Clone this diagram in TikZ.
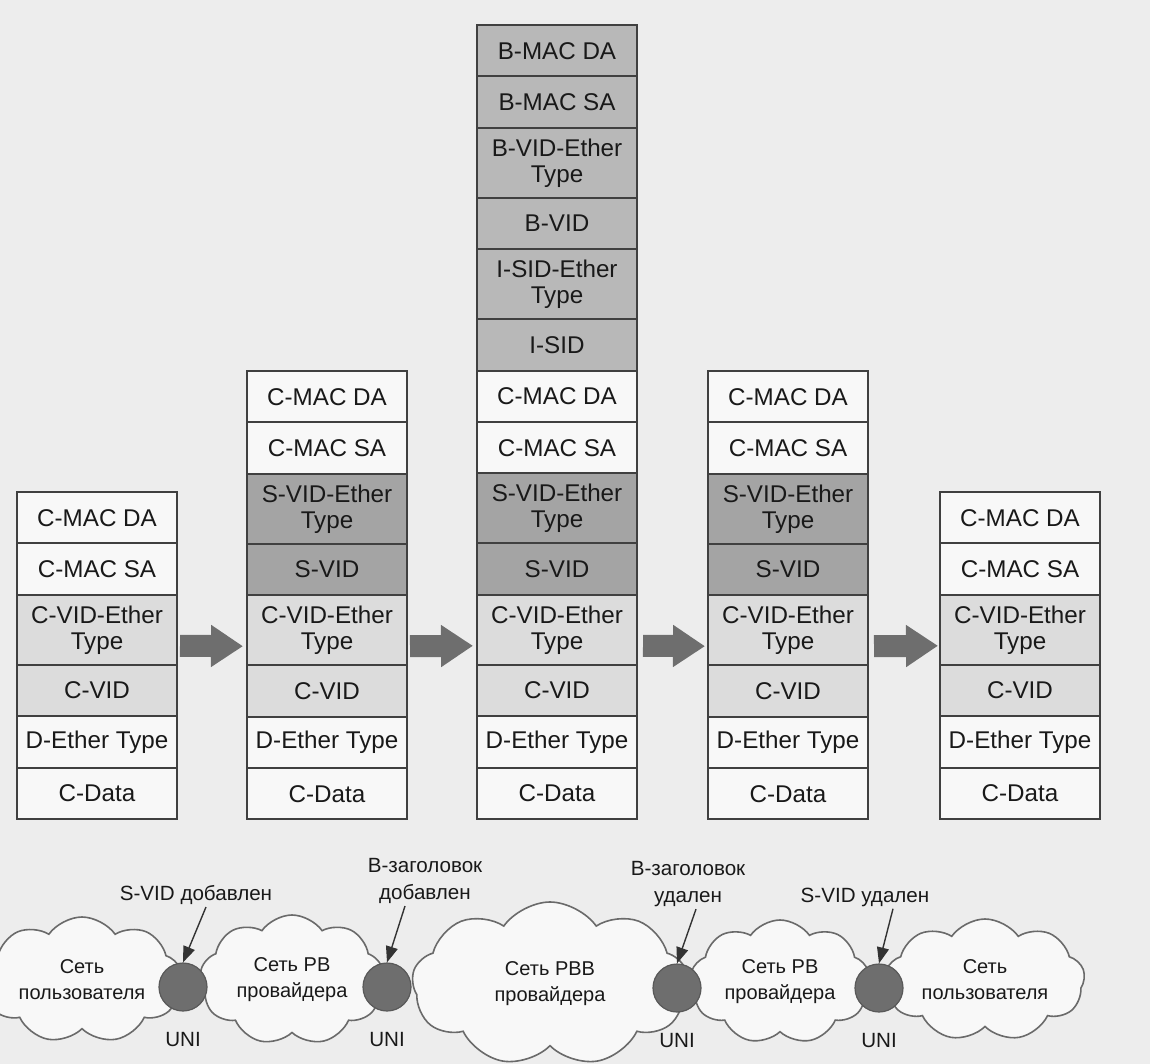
\documentclass[tikz,border=0pt]{standalone}
\usepackage{fontspec}
\setmainfont{Liberation Sans}
\usetikzlibrary{arrows.meta,positioning,shapes.symbols}

\definecolor{pagebg}{HTML}{EDEDED}
\definecolor{cwhite}{HTML}{F8F8F8}
\definecolor{clight}{HTML}{DCDCDC}
\definecolor{cdark}{HTML}{A4A4A4}
\definecolor{bgrey}{HTML}{B8B8B8}
\definecolor{edge}{HTML}{404040}
\definecolor{arrowgrey}{HTML}{6E6E6E}
\definecolor{cloudline}{HTML}{6A6A6A}

\newcommand{\clientrows}{C-MAC DA/cwhite/25.7pt, C-MAC SA/cwhite/25.7pt, C-VID-Ether\\Type/clight/35pt, C-VID/clight/25.7pt, D-Ether Type/cwhite/25.7pt, C-Data/cwhite/25.7pt}
\newcommand{\pbrows}{C-MAC DA/cwhite/25.7pt, C-MAC SA/cwhite/25.7pt, S-VID-Ether\\Type/cdark/35pt, S-VID/cdark/25.7pt, C-VID-Ether\\Type/clight/35pt, C-VID/clight/25.7pt, D-Ether Type/cwhite/25.7pt, C-Data/cwhite/25.7pt}

\tikzset{
	field/.style={draw=edge, line width=1pt, minimum width=80pt, inner sep=0pt, outer sep=0pt,
		align=center, text=black!90, font=\fontsize{12.1}{13}\selectfont},
	stacktop/.style={inner sep=0pt, outer sep=0pt, minimum size=0pt},
	flow/.style={draw=arrowgrey, line width=11pt, -{Triangle[length=16pt, width=20pt]}},
	net/.style={cloud, cloud puffs=9, cloud puff arc=110, cloud ignores aspect, draw=cloudline,
		line width=0.8pt, fill=cwhite, align=center, text=black!90, font=\fontsize{10}{13}\selectfont},
	uni/.style={circle, fill=arrowgrey, draw=black!65, line width=0.6pt, minimum size=24pt, inner sep=0pt},
	lbl/.style={align=center, inner sep=1pt, text=black!90, font=\fontsize{10.3}{13.5}\selectfont},
	ptr/.style={draw=black!80, line width=0.7pt, -{Triangle[length=8pt, width=6pt]}}
}

\begin{document}
\begin{tikzpicture}[x=0.5pt, y=-0.5pt]
	\fill[pagebg] (0,0) rectangle (1150,1064);
	\useasboundingbox (0,0) rectangle (1150,1064);
	% frame stacks
	\node[stacktop] (s1-0) at (97,492) {};
	\foreach \lab/\col/\rh [count=\i] in \clientrows {
		\pgfmathtruncatemacro\j{\i-1}
		\node[field, fill=\col, minimum height=\rh, below=0pt of s1-\j] (s1-\i) {\lab};
	}
	\node[stacktop] (s2-0) at (327,371) {};
	\foreach \lab/\col/\rh [count=\i] in \pbrows {
		\pgfmathtruncatemacro\j{\i-1}
		\node[field, fill=\col, minimum height=\rh, below=0pt of s2-\j] (s2-\i) {\lab};
	}
	\node[stacktop] (s3-0) at (557,25) {};
	\foreach \lab/\col/\rh [count=\i] in {B-MAC DA/bgrey/25.7pt, B-MAC SA/bgrey/25.7pt,
		B-VID-Ether\\Type/bgrey/35pt, B-VID/bgrey/25.7pt, I-SID-Ether\\Type/bgrey/35pt, I-SID/bgrey/25.7pt,
		C-MAC DA/cwhite/25.7pt, C-MAC SA/cwhite/25.7pt, S-VID-Ether\\Type/cdark/35pt, S-VID/cdark/25.7pt,
		C-VID-Ether\\Type/clight/35pt, C-VID/clight/25.7pt, D-Ether Type/cwhite/25.7pt, C-Data/cwhite/25.7pt} {
		\pgfmathtruncatemacro\j{\i-1}
		\node[field, fill=\col, minimum height=\rh, below=0pt of s3-\j] (s3-\i) {\lab};
	}
	\node[stacktop] (s4-0) at (788,371) {};
	\foreach \lab/\col/\rh [count=\i] in \pbrows {
		\pgfmathtruncatemacro\j{\i-1}
		\node[field, fill=\col, minimum height=\rh, below=0pt of s4-\j] (s4-\i) {\lab};
	}
	\node[stacktop] (s5-0) at (1020,492) {};
	\foreach \lab/\col/\rh [count=\i] in \clientrows {
		\pgfmathtruncatemacro\j{\i-1}
		\node[field, fill=\col, minimum height=\rh, below=0pt of s5-\j] (s5-\i) {\lab};
	}
	% block arrows
	\draw[flow] ([xshift=1.5pt,yshift=-8pt]s1-3.east) -- ([xshift=-2pt,yshift=-8pt]s2-5.west);
	\draw[flow] ([xshift=1.5pt,yshift=-8pt]s2-5.east) -- ([xshift=-2pt,yshift=-8pt]s3-11.west);
	\draw[flow] ([xshift=3pt,yshift=-8pt]s3-11.east) -- ([xshift=-1.5pt,yshift=-8pt]s4-5.west);
	\draw[flow] ([xshift=3pt,yshift=-8pt]s4-5.east) -- ([xshift=-1pt,yshift=-8pt]s5-3.west);
	% networks
	\node[net, minimum width=84pt, minimum height=63pt] (user1) at (82,980) {Сеть\\пользователя};
	\node[net, minimum width=92pt, minimum height=65pt] (pb1) at (292,980) {Сеть PB\\провайдера};
	\node[net, minimum width=138pt, minimum height=82pt] (pbb) at (550,984) {Сеть PBB\\провайдера};
	\node[net, minimum width=84pt, minimum height=62pt] (pb2) at (780,982) {Сеть PB\\провайдера};
	\node[net, minimum width=86pt, minimum height=61pt] (user2) at (985,980) {Сеть\\пользователя};
	\node[uni] (u1) at (183,987) {};
	\node[uni] (u2) at (387,987) {};
	\node[uni] (u3) at (677,988) {};
	\node[uni] (u4) at (879,988) {};
	\foreach \k in {1,...,4} {\node[lbl, below=9pt of u\k] {UNI};}
	% edge events
	\node[lbl] (add1) at (196,895) {S-VID добавлен};
	\node[lbl] (add2) at (425,881) {B-заголовок\\добавлен};
	\node[lbl] (del1) at (688,884) {B-заголовок\\удален};
	\node[lbl] (del2) at (865,897) {S-VID удален};
	\draw[ptr] ([xshift=5pt]add1.south) -- (u1.north);
	\draw[ptr] ([xshift=-10pt]add2.south) -- (u2.north);
	\draw[ptr] ([xshift=4pt]del1.south) -- (u3.north);
	\draw[ptr] ([xshift=14pt]del2.south) -- (u4.north);
\end{tikzpicture}
\end{document}
